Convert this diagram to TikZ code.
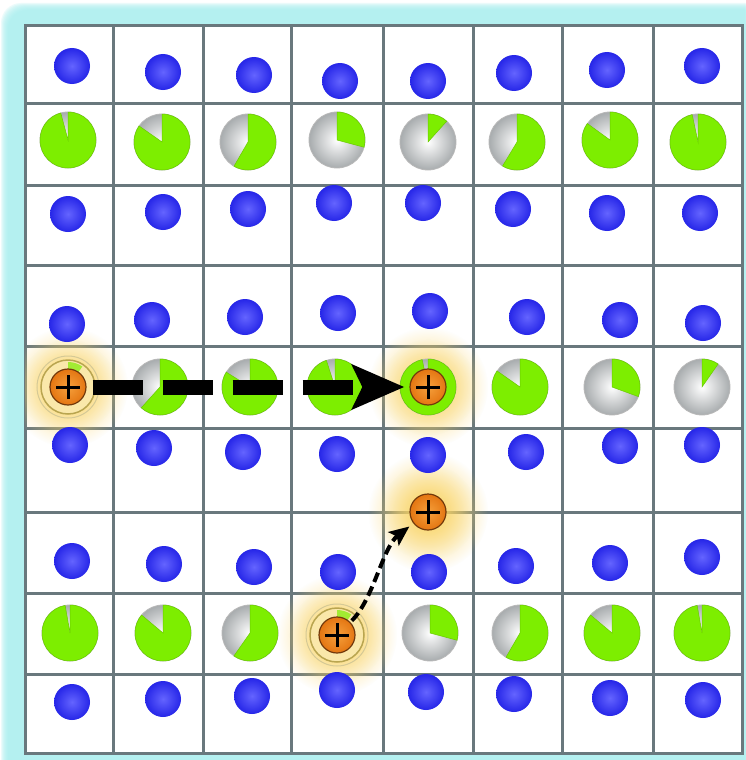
\documentclass[tikz,border=0pt]{standalone}
\usepackage{tikz}
\usetikzlibrary{arrows.meta,fadings}

\definecolor{gridgray}{RGB}{105,120,125}
\definecolor{framecyan}{RGB}{170,240,240}
\definecolor{eblue}{RGB}{38,38,232}
\definecolor{eblueinner}{RGB}{100,100,255}
\definecolor{piegreen}{RGB}{125,238,0}
\definecolor{piegray}{RGB}{168,172,174}
\definecolor{holeorange}{RGB}{228,118,18}
\definecolor{holeinner}{RGB}{245,160,60}
\definecolor{holeedge}{RGB}{115,58,12}
\definecolor{glowyellow}{RGB}{250,212,100}
\definecolor{ringolive}{RGB}{185,165,80}
\definecolor{ringfill}{RGB}{250,232,170}

\tikzfading[name=glowfade, inner color=transparent!0, outer color=transparent!100]

\begin{document}
\begin{tikzpicture}[x=1pt,y=1pt,
  gridline/.style={draw=gridgray,line width=3pt,line cap=rect},
  electron/.style={circle,minimum size=36pt,inner sep=0pt,shade,inner color=eblueinner,outer color=eblue},
  hole/.style={circle,minimum size=36pt,inner sep=0pt,draw=holeedge,line width=1.2pt,
    shade,inner color=holeinner,outer color=holeorange,
    path picture={\draw[black,line width=3pt] (path picture bounding box.center)
      +(-12,0) -- +(12,0) +(0,-12) -- +(0,12);}},
  bigarrow/.style={line width=15pt,dash pattern=on 50pt off 20pt,
    -{Stealth[length=52pt,width=44pt,inset=10pt]},shorten <=6pt,shorten >=5pt},
  smallarrow/.style={line width=4pt,dash pattern=on 10pt off 5pt,
    -{Stealth[length=20pt,width=17pt,inset=4pt]},shorten <=2pt,shorten >=5pt}]

\useasboundingbox (0,0) rectangle (745,-760);

% frame
\fill[white] (0,0) rectangle (745,-760);
\foreach \i in {0,...,7}
  \fill[framecyan,opacity=0.22,rounded corners=20] (\i+1,-\i-3) rectangle (775,-790);
\fill[white] (25,-26) rectangle (742,-753);

% lattice
\foreach \x in {25,113,203,291,383,473,562,653,742}
  \draw[gridline] (\x,-26) -- (\x,-753);
\foreach \y in {26,103,185,265,346,428,512,593,674,753}
  \draw[gridline] (25,-\y) -- (742,-\y);

\begin{scope}
\clip (25,-26) rectangle (742,-753);
\foreach \x/\y in {68/387,428/387,337/635,428/512}{
  \fill[glowyellow,path fading=glowfade] (\x,-\y) circle (60);
  \fill[glowyellow,opacity=0.6,path fading=glowfade] (\x-48,-\y+48) rectangle (\x+48,-\y-48);
}
\end{scope}

% pies: green part swept clockwise from the top
\foreach \x/\y/\s in {68/140/345,162/142/305,248/142/210,337/140/105,
                      428/142/42,517/142/211,610/140/306,698/142/348,
                      160/387/222,250/387/302,335/387/342,
                      428/387/348,520/387/305,612/387/110,702/387/35,
                      70/633/350,163/633/310,250/633/215,
                      430/633/105,520/633/210,612/633/310,702/633/350}{
  \shade[inner color=white,outer color=piegray,draw=gray!55,line width=0.8pt] (\x,-\y) circle (28);
  \fill[piegreen,draw=piegreen!85!black,line width=0.5pt]
    (\x,-\y) -- ++(90:28) arc[start angle=90,delta angle=-\s,radius=28] -- cycle;
}
% sites left behind by the charges
\foreach \x/\y in {68/387,337/635}{
  \fill[ringfill,draw=ringolive,line width=1.5pt] (\x,-\y) circle (27);
  \fill[piegreen!70!ringfill] (\x,-\y) -- ++(90:25) arc[start angle=90,delta angle=-35,radius=25] -- cycle;
  \draw[ringolive!60!white,line width=1pt] (\x,-\y) circle (31);
}

\foreach \x/\y [count=\i] in {72/66,163/72,254/75,340/81,428/81,514/73,607/70,702/66,
                              68/214,163/212,248/209,334/203,423/203,513/209,607/213,700/213,
                              67/324,152/320,245/317,338/313,430/311,527/317,620/320,703/323,
                              70/445,154/448,243/452,337/454,428/455,526/452,620/446,702/445,
                              72/561,164/564,254/567,338/572,429/572,516/566,610/563,702/557,
                              72/702,163/699,252/696,337/690,426/692,514/694,610/698,703/700}
  \node[electron] (e\i) at (\x,-\y) {};

\node[hole] (A) at (68,-387) {};
\node[hole] (B) at (428,-387) {};
\node[hole] (C) at (337,-635) {};
\node[hole] (D) at (428,-512) {};

\path (A) edge[bigarrow] (B);
\draw[smallarrow] (C) .. controls +(36,35) and +(-45,-35) .. (D);

\end{tikzpicture}
\end{document}
